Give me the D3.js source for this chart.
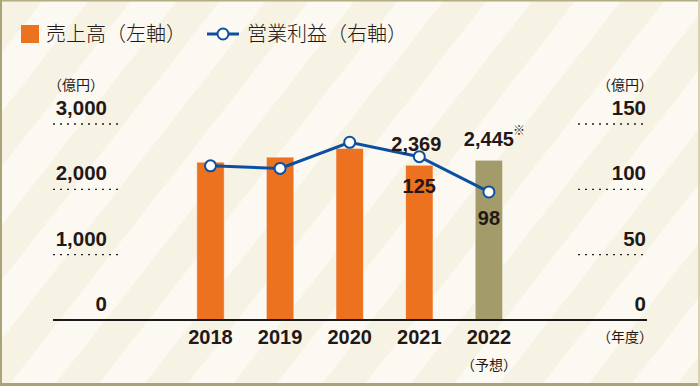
<!DOCTYPE html>
<html><head><meta charset="utf-8">
<script src="https://cdn.jsdelivr.net/npm/d3@7"></script>
<style>html,body{margin:0;padding:0;background:#fff}svg{display:block}</style>
</head><body><svg id="c" width="700" height="386"></svg>
<script>
const years = ["2018", "2019", "2020", "2021", "2022"];
const sales = [2416, 2493, 2627, 2369, 2445];
const profit = [118, 116, 136, 125, 98];
const leftTicks = [0, 1000, 2000, 3000];
const rightTicks = [0, 50, 100, 150];
const salesLabels = [null, null, null, "2,369", "2,445"];
const profitLabels = [null, null, null, "125", "98"];
const forecastYear = "2022";

const svg = d3.select("#c");
const W = 700, H = 386;
const numFont = "'Liberation Sans', Arial, sans-serif";
const jpFont = "'Noto Sans CJK JP', 'Noto Sans', sans-serif";
const ink = "#231815";
const orange = "#ec7220", olive = "#a39c6a", blue = "#0c4fa2";

// background stripes
const defs = svg.append("defs");
const pat = defs.append("pattern").attr("id", "stripes").attr("patternUnits", "userSpaceOnUse")
  .attr("width", 70).attr("height", 70).attr("patternTransform", "rotate(38)");
pat.append("rect").attr("width", 70).attr("height", 70).attr("fill", "#fbf9f2");
pat.append("rect").attr("width", 34).attr("height", 70).attr("fill", "#f7f3e4");
svg.append("rect").attr("width", W).attr("height", H).attr("fill", "url(#stripes)");
// frame
svg.append("rect").attr("x", 0).attr("y", 0).attr("width", W).attr("height", 1.5).attr("fill", "#b4ac82");
svg.append("rect").attr("x", 0).attr("y", 0).attr("width", 2).attr("height", H).attr("fill", "#aaa278");
svg.append("rect").attr("x", 0).attr("y", 383).attr("width", W).attr("height", 3).attr("fill", "#aaa278");
svg.append("rect").attr("x", 698).attr("y", 0).attr("width", 2).attr("height", H).attr("fill", "#d8d2b2");

// scales
const x = d3.scaleBand().domain(years).range([196.75, 502.65]).paddingInner(0.605).paddingOuter(0);
const yL = d3.scaleLinear().domain([0, 3000]).range([320, 124]);
const yR = d3.scaleLinear().domain([0, 150]).range([320, 124]);
const cx = d => x(d) + x.bandwidth() / 2;

// gridlines (dotted)
const grid = svg.append("g");
grid.selectAll("line.l").data(leftTicks.filter(d => d > 0)).join("line")
  .attr("x1", 53).attr("x2", 122).attr("y1", d => yL(d)).attr("y2", d => yL(d))
  .attr("stroke", "#222").attr("stroke-width", 1.4).attr("stroke-dasharray", "2,5");
grid.selectAll("line.r").data(rightTicks.filter(d => d > 0)).join("line")
  .attr("x1", 578).attr("x2", 647).attr("y1", d => yR(d)).attr("y2", d => yR(d))
  .attr("stroke", "#222").attr("stroke-width", 1.4).attr("stroke-dasharray", "2,5");

// bars
svg.append("g").selectAll("rect").data(years).join("rect")
  .attr("x", d => x(d)).attr("width", x.bandwidth())
  .attr("y", (d, i) => yL(sales[i])).attr("height", (d, i) => yL(0) - yL(sales[i]))
  .attr("fill", d => d === forecastYear ? olive : orange)
  .attr("stroke", "rgba(255,255,255,0.55)").attr("stroke-width", 1);

// baseline
svg.append("line").attr("x1", 53).attr("x2", 647).attr("y1", 320).attr("y2", 320)
  .attr("stroke", "#1a1a1a").attr("stroke-width", 2);

// axes labels
function styleAxis(g, anchor) {
  g.select(".domain").remove();
  g.selectAll(".tick line").remove();
  g.selectAll("text").attr("font-family", numFont).attr("font-weight", "bold")
    .attr("font-size", 20.5).attr("fill", ink).attr("dy", 0).attr("text-anchor", anchor);
}
svg.append("g").attr("transform", "translate(107,-9.5)")
  .call(d3.axisLeft(yL).tickValues(leftTicks).tickFormat(d3.format(",")).tickSize(0).tickPadding(0))
  .call(g => styleAxis(g, "end"));
svg.append("g").attr("transform", "translate(646,-9.5)")
  .call(d3.axisLeft(yR).tickValues(rightTicks).tickFormat(d3.format(",")).tickSize(0).tickPadding(0))
  .call(g => styleAxis(g, "end"));
svg.append("g").attr("transform", "translate(0,344)")
  .call(d3.axisBottom(x).tickSize(0).tickPadding(0))
  .call(g => { styleAxis(g, "middle"); g.selectAll("text").attr("font-size", 20).attr("y", 0); });

// unit labels
const jp = (t, xx, yy, size, anchor) => svg.append("text").text(t).attr("x", xx).attr("y", yy)
  .attr("font-family", jpFont).attr("font-size", size).attr("fill", ink).attr("text-anchor", anchor || "start");
jp("（億円）", 48, 90, 14);
jp("（億円）", 653, 90, 14, "end");
jp("（年度）", 653, 342, 14, "end");
jp("（予想）", cx(forecastYear), 370, 14, "middle");

// profit line
const line = d3.line().x((d, i) => cx(years[i])).y(d => yR(d));
svg.append("path").datum(profit).attr("d", line).attr("fill", "none")
  .attr("stroke", blue).attr("stroke-width", 3);
svg.append("g").selectAll("circle").data(profit).join("circle")
  .attr("cx", (d, i) => cx(years[i])).attr("cy", d => yR(d)).attr("r", 5.5)
  .attr("fill", "#fff").attr("stroke", blue).attr("stroke-width", 2);

// value labels
const num = (t, xx, yy) => svg.append("text").text(t).attr("x", xx).attr("y", yy)
  .attr("font-family", numFont).attr("font-weight", "bold").attr("font-size", 20)
  .attr("fill", ink).attr("text-anchor", "middle");
salesLabels.forEach((t, i) => { if (t) num(t, cx(years[i]) - (i === 3 ? 3 : 0), yL(sales[i]) - 14); });
profitLabels.forEach((t, i) => { if (t) num(t, cx(years[i]), yR(profit[i]) + (i === 3 ? 36 : 33)); });
svg.append("text").text("※").attr("x", 513).attr("y", 135).attr("font-family", jpFont)
  .attr("font-size", 12).attr("fill", ink);

// legend
svg.append("rect").attr("x", 21).attr("y", 25).attr("width", 18).attr("height", 18).attr("fill", orange);
jp("売上高（左軸）", 46, 41, 20).attr("font-weight", 300);
svg.append("line").attr("x1", 207).attr("x2", 239).attr("y1", 34).attr("y2", 34).attr("stroke", blue).attr("stroke-width", 3);
svg.append("circle").attr("cx", 223).attr("cy", 34).attr("r", 5.5).attr("fill", "#fff").attr("stroke", blue).attr("stroke-width", 2);
jp("営業利益（右軸）", 247, 41, 20).attr("font-weight", 300);
</script></body></html>
